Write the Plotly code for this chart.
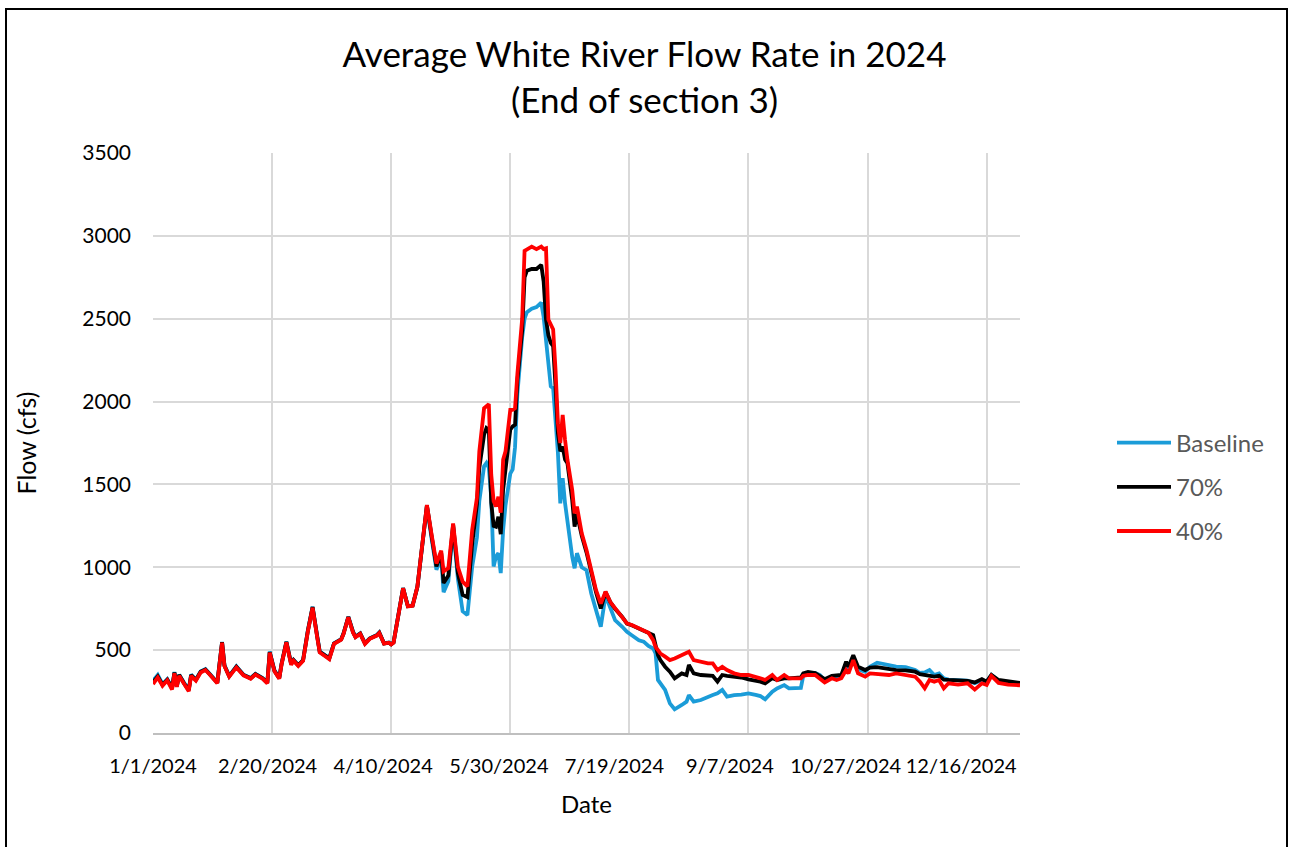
import pandas as pd
import plotly.graph_objects as go

# Day of year (0 = Jan 1, 2024) for each sampled reading
day_of_year = [
    0, 2, 4, 6, 8, 9, 10, 11, 13, 15, 16, 18, 20, 22, 24, 27, 29, 30, 32, 35,
    38, 41, 43, 46, 48, 49, 51, 53, 54, 56, 58, 59, 61, 63, 65, 67, 69, 70, 72, 74,
    76, 79, 80, 82, 84, 85, 87, 89, 91, 94, 95, 97, 99, 100, 101, 103, 105, 107, 109, 111,
    113, 115, 117, 119, 121, 122, 124, 126, 128, 130, 132, 134, 136, 137, 139, 140, 141, 142, 143, 144,
    145, 146, 147, 148, 150, 151, 152, 153, 155, 156, 157, 159, 161, 163, 164, 165, 166, 167, 168, 169,
    170, 171, 172, 173, 174, 176, 177, 178, 180, 182, 184, 186, 188, 190, 192, 194, 197, 199, 201, 204,
    206, 208, 210, 211, 212, 213, 215, 217, 219, 222, 224, 225, 227, 230, 233, 235, 237, 239, 241, 244,
    247, 250, 253, 255, 257, 260, 262, 265, 267, 270, 272, 273, 275, 278, 280, 282, 285, 287, 289, 291,
    292, 294, 296, 299, 301, 304, 307, 309, 312, 316, 320, 322, 324, 326, 328, 330, 332, 334, 338, 342,
    345, 348, 350, 352, 355, 359, 364,
]

# Flow (cfs) for each scenario
baseline = [
    315, 350, 295, 325, 275, 368, 285, 352, 305, 262, 352, 322, 372, 386, 355, 305, 550, 410, 345, 402,
    352, 332, 357, 332, 305, 492, 378, 332, 420, 552, 420, 442, 410, 440, 620, 762, 580, 492, 472, 452,
    542, 566, 602, 702, 612, 582, 602, 542, 572, 592, 606, 542, 546, 536, 548, 700, 875, 766, 770, 880,
    1115, 1370, 1170, 985, 1060, 850, 915, 1245, 930, 735, 712, 1003, 1180, 1400, 1610, 1630, 1600, 1420, 1005, 1065,
    1085, 965, 1225, 1375, 1565, 1590, 1725, 2050, 2390, 2500, 2540, 2560, 2570, 2597, 2510, 2354, 2213, 2092, 2080, 1890,
    1690, 1386, 1537, 1386, 1265, 1064, 994, 1085, 1000, 983, 842, 741, 642, 830, 762, 681, 641, 610, 590, 560,
    551, 525, 510, 480, 320, 300, 260, 179, 143, 169, 189, 229, 189, 199, 220, 229, 239, 260, 219, 229,
    232, 239, 230, 223, 203, 249, 269, 289, 269, 269, 272, 345, 360, 362, 350, 320, 340, 340, 345, 420,
    390, 460, 385, 370, 400, 424, 415, 410, 400, 398, 380, 362, 365, 380, 350, 360, 330, 322, 320, 316,
    300, 320, 310, 350, 316, 306, 300,
]

pct70 = [
    305, 342, 290, 322, 270, 365, 282, 350, 300, 258, 350, 320, 370, 383, 352, 303, 548, 406, 342, 400,
    350, 330, 355, 330, 303, 488, 375, 330, 418, 550, 416, 440, 408, 438, 615, 760, 576, 490, 470, 450,
    540, 565, 600, 700, 608, 580, 600, 540, 570, 590, 605, 540, 545, 535, 546, 698, 874, 765, 769, 882,
    1120, 1374, 1185, 1005, 1085, 905, 950, 1258, 965, 833, 820, 1140, 1380, 1600, 1800, 1840, 1830, 1390, 1250, 1245,
    1305, 1200, 1470, 1600, 1830, 1850, 1860, 2130, 2430, 2750, 2790, 2800, 2800, 2825, 2725, 2495, 2400, 2354, 2334, 2090,
    1810, 1700, 1728, 1650, 1628, 1406, 1245, 1320, 1190, 1090, 960, 850, 751, 850, 790, 750, 700, 660, 650, 630,
    620, 602, 591, 530, 470, 440, 400, 370, 330, 360, 350, 410, 360, 350, 350, 345, 310, 350, 345, 340,
    335, 324, 318, 310, 300, 330, 320, 330, 330, 330, 335, 360, 368, 362, 345, 325, 345, 345, 350, 430,
    400, 470, 400, 380, 395, 398, 390, 385, 380, 378, 370, 355, 350, 345, 340, 345, 322, 320, 320, 315,
    305, 325, 310, 350, 320, 310, 302,
]

pct40 = [
    295, 335, 285, 318, 262, 360, 278, 345, 298, 252, 345, 316, 365, 380, 350, 300, 545, 404, 340, 396,
    348, 328, 353, 328, 300, 485, 372, 328, 415, 546, 412, 436, 405, 435, 612, 756, 572, 486, 466, 446,
    538, 563, 598, 698, 605, 578, 598, 538, 568, 588, 603, 540, 545, 535, 545, 695, 873, 764, 768, 883,
    1124, 1376, 1195, 1023, 1100, 975, 995, 1265, 1003, 913, 885, 1225, 1420, 1700, 1960, 1975, 1985, 1560, 1400, 1366,
    1426, 1330, 1650, 1700, 1950, 1950, 1960, 2170, 2500, 2910, 2920, 2935, 2920, 2935, 2920, 2925, 2495, 2470, 2435, 2190,
    1868, 1750, 1920, 1768, 1648, 1466, 1325, 1366, 1205, 1104, 973, 862, 781, 853, 790, 755, 701, 661, 652, 630,
    621, 605, 560, 519, 500, 480, 461, 440, 450, 471, 480, 490, 440, 430, 420, 420, 380, 400, 380, 360,
    350, 350, 340, 330, 320, 350, 320, 350, 330, 330, 330, 345, 350, 350, 330, 305, 330, 320, 330, 380,
    360, 440, 360, 340, 360, 355, 350, 350, 360, 350, 340, 310, 270, 320, 310, 320, 270, 300, 292, 300,
    262, 300, 290, 345, 302, 292, 288,
]

# Gridline dates (every 50 days) and their labels
tick_dates = ["2024-01-01", "2024-02-20", "2024-04-10", "2024-05-30",
              "2024-07-19", "2024-09-07", "2024-10-27", "2024-12-16"]
tick_labels = ["1/1/2024", "2/20/2024", "4/10/2024", "5/30/2024",
               "7/19/2024", "9/7/2024", "10/27/2024", "12/16/2024"]
# label anchor positions (day of year); the labels sit slightly tighter than the gridlines
label_day = [0, 48.1, 96.6, 145.2, 193.7, 242.2, 290.8, 339.3]

start = pd.Timestamp("2024-01-01")
dates = start + pd.to_timedelta(day_of_year, unit="D")
label_dates = [start + pd.Timedelta(days=d) for d in label_day]
x_range = ["2024-01-01", "2024-12-30"]

FONT = "Lato"
fig = go.Figure()
series = [("Baseline", baseline, "#1b9cd8"), ("70%", pct70, "#000000"), ("40%", pct40, "#ff0000")]
for i, (name, vals, color) in enumerate(series):
    fig.add_trace(go.Scatter(
        x=dates, y=vals, name=name, mode="lines",
        line=dict(color=color, width=3.8),
        legendgroup=f"g{i}",
    ))

# plot area: x 153..1020, y 153..733 within a 1289x847 canvas
L, R, T, B = 153, 1289 - 1020, 153, 847 - 733
pw, ph = 1289 - L - R, 847 - T - B

def px(x):
    return (x - L) / pw

def py(y):
    return (847 - B - y) / ph

fig.update_layout(
    width=1289, height=847,
    margin=dict(l=L, r=R, t=T, b=B, pad=0),
    paper_bgcolor="white", plot_bgcolor="white",
    font=dict(family=FONT, color="#000000"),
    title=dict(
        text="Average White River Flow Rate in 2024<br>(End of section 3)",
        x=0.5, xanchor="center", xref="container",
        y=1 - 67 / 847, yanchor="middle", yref="container",
        font=dict(family=FONT, size=35, color="#000000"),
    ),
    xaxis=dict(
        type="date", range=x_range,
        tickvals=tick_dates, showticklabels=False,
        showgrid=True, gridcolor="#d9d9d9", gridwidth=2,
        showline=True, linecolor="#bfbfbf", linewidth=2,
        ticks="", zeroline=False,
    ),
    xaxis2=dict(
        type="date", range=x_range, overlaying="x", anchor="y", side="bottom",
        tickvals=label_dates, ticktext=tick_labels, tickangle=0,
        showgrid=False, showline=False, zeroline=False, ticks="",
        ticklabelstandoff=19,
        tickfont=dict(family=FONT, size=20, color="#000000"),
        title=dict(text="Date", font=dict(family=FONT, size=24, color="#000000"), standoff=20),
    ),
    yaxis=dict(
        range=[0, 3500], dtick=500, tick0=0,
        showgrid=True, gridcolor="#d9d9d9", gridwidth=2,
        showline=False, zeroline=False, ticks="",
        ticklabelstandoff=21,
        tickfont=dict(family=FONT, size=21, color="#000000"),
        title=dict(text="Flow (cfs)", font=dict(family=FONT, size=25, color="#000000"), standoff=38),
    ),
    legend=dict(
        x=px(1112), xanchor="left", y=py(487), yanchor="middle",
        font=dict(family=FONT, size=24, color="#595959"),
        itemwidth=54, tracegroupgap=10, bgcolor="rgba(0,0,0,0)",
    ),
    shapes=[dict(
        type="rect", xref="paper", yref="paper",
        x0=px(6), x1=px(1287), y0=py(900), y1=py(9),
        line=dict(color="#000000", width=2), fillcolor="rgba(0,0,0,0)", layer="above",
    )],
)

# an invisible trace keeps the label axis active
fig.add_trace(go.Scatter(x=[x_range[0]], y=[None], xaxis="x2", showlegend=False, hoverinfo="skip"))

fig.write_html("out.html")
